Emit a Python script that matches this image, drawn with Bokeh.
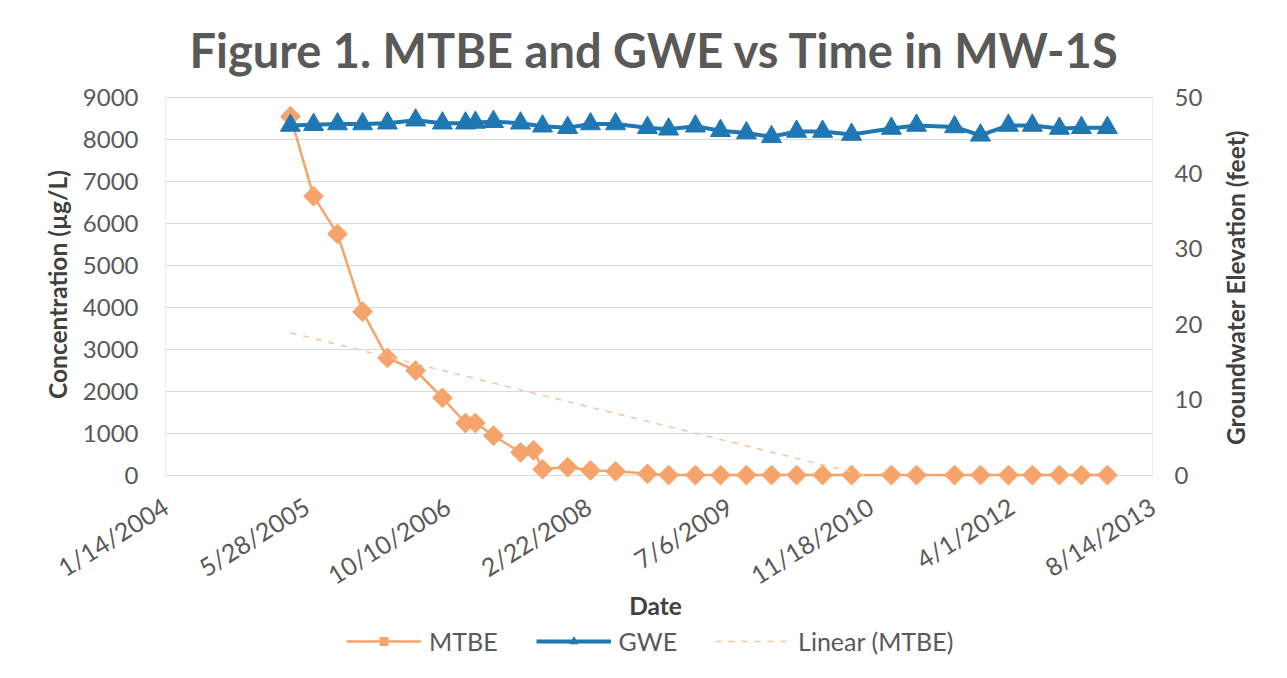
import numpy as np
import pandas as pd
from bokeh.plotting import figure
from bokeh.models import Range1d, LinearAxis, FixedTicker, Legend, LegendItem, Label
from bokeh.embed import file_html
from bokeh.resources import INLINE

# ---------------- data ----------------
title_text = "Figure 1. MTBE and GWE vs Time in MW-1S"
x_title = "Date"
y_title = "Concentration (µg/L)"
y2_title = "Groundwater Elevation (feet)"
x_tick_labels = ["1/14/2004", "5/28/2005", "10/10/2006", "2/22/2008",
                 "7/6/2009", "11/18/2010", "4/1/2012", "8/14/2013"]
conc_ticks = [0, 1000, 2000, 3000, 4000, 5000, 6000, 7000, 8000, 9000]
gwe_ticks = [0, 10, 20, 30, 40, 50]

mtbe_dates = ["2005-04-01", "2005-06-22", "2005-09-15", "2005-12-13", "2006-03-11",
              "2006-06-19", "2006-09-22", "2006-12-13", "2007-01-17", "2007-03-22",
              "2007-06-26", "2007-08-11", "2007-09-12", "2007-12-10", "2008-02-29",
              "2008-05-28", "2008-09-18", "2008-12-02", "2009-03-07", "2009-06-04",
              "2009-09-04", "2009-12-02", "2010-03-01", "2010-06-01", "2010-09-12",
              "2011-01-31", "2011-04-30", "2011-09-12", "2011-12-13", "2012-03-21",
              "2012-06-14", "2012-09-18", "2012-12-05", "2013-03-07"]
mtbe_values = [8550, 6650, 5750, 3900, 2800, 2500, 1850, 1250, 1250, 950,
               550, 600, 150, 200, 120, 100, 40, 10, 10, 10,
               10, 10, 10, 10, 10, 10, 10, 10, 10, 10,
               10, 10, 10, 10]

gwe_dates = ["2005-04-01", "2005-06-22", "2005-09-15", "2005-12-13", "2006-03-11",
             "2006-06-19", "2006-09-22", "2006-12-13", "2007-01-17", "2007-03-22",
             "2007-06-26", "2007-09-12", "2007-12-10", "2008-02-29",
             "2008-05-28", "2008-09-18", "2008-12-02", "2009-03-07", "2009-06-04",
             "2009-09-04", "2009-12-02", "2010-03-01", "2010-06-01", "2010-09-12",
             "2011-01-31", "2011-04-30", "2011-09-12", "2011-12-13", "2012-03-21",
             "2012-06-14", "2012-09-18", "2012-12-05", "2013-03-07"]
gwe_values = [46.3, 46.4, 46.5, 46.5, 46.6, 47.0, 46.6, 46.6, 46.7, 46.8,
              46.6, 46.2, 46.0, 46.5, 46.5, 46.0, 45.8, 46.2, 45.6,
              45.3, 44.8, 45.5, 45.5, 45.1, 45.9, 46.3, 46.1, 45.0, 46.3,
              46.3, 45.9, 46.0, 46.0]

# ---------------- styles / geometry ----------------
ORANGE = "#f6a46c"
TREND = "#f6c4a0"
BLUE = "#1f77b4"
TXT = "#595959"
LBL = "#404040"
GRID = "#d9d9d9"
FONT = "Lato"

CANVAS_W = 1286
TOP = 82                 # space for the title (frame starts here)
CANVAS_BOTTOM = 675
PLOT_L, PLOT_R = 165, 1152   # plot area, in page pixels
PLOT_T, PLOT_B = 97, 475
FRAME_H = CANVAS_BOTTOM - TOP


def to_ms(ts):
    return (pd.to_datetime(ts) - pd.Timestamp("1970-01-01")) / pd.Timedelta(milliseconds=1)


tick_ms = [float(v) for v in to_ms(pd.to_datetime(x_tick_labels, format="%m/%d/%Y"))]
t0, t1 = tick_ms[0], tick_ms[-1]
ms_per_px = (t1 - t0) / (PLOT_R - PLOT_L)
x_start = t0 - PLOT_L * ms_per_px
x_end = t0 + (CANVAS_W - PLOT_L) * ms_per_px

c0, c1 = conc_ticks[0], conc_ticks[-1]
c_per_px = (c1 - c0) / (PLOT_B - PLOT_T)
y_start = c0 - (CANVAS_BOTTOM - PLOT_B) * c_per_px
y_end = c1 + (PLOT_T - TOP) * c_per_px

g0, g1 = gwe_ticks[0], gwe_ticks[-1]
g_per_px = (g1 - g0) / (PLOT_B - PLOT_T)
y2_start = g0 - (CANVAS_BOTTOM - PLOT_B) * g_per_px
y2_end = g1 + (PLOT_T - TOP) * g_per_px

mtbe_x = pd.to_datetime(mtbe_dates)
gwe_x = pd.to_datetime(gwe_dates)

# linear trend (least squares, like a spreadsheet trendline), shown above 0
mtbe_ms = np.array(to_ms(mtbe_x), dtype=float)
a, b = np.polyfit(mtbe_ms, np.array(mtbe_values, dtype=float), 1)
t_end = min(mtbe_ms[-1], -b / a) if a < 0 else mtbe_ms[-1]
trend_x = [mtbe_ms[0], t_end]
trend_y = [a * mtbe_ms[0] + b, a * t_end + b]


def sx(px):   # page x -> screen units of the frame
    return px


def sy(py):   # page y -> screen units of the frame (measured from the bottom)
    return CANVAS_BOTTOM - py


p = figure(frame_width=CANVAS_W, frame_height=FRAME_H, x_axis_type="datetime",
           output_backend="svg", toolbar_location=None,
           x_range=Range1d(x_start, x_end), y_range=Range1d(y_start, y_end),
           min_border_left=0, min_border_right=0,
           min_border_top=TOP, min_border_bottom=0,
           background_fill_color="white", border_fill_color="white")
p.extra_y_ranges = {"gwe": Range1d(y2_start, y2_end)}
p.outline_line_color = None
p.xgrid.grid_line_color = None
p.ygrid.grid_line_color = None

# title
p.title.text = title_text
p.title.align = "left"
p.title.offset = 189
p.title.text_font = FONT
p.title.text_font_size = "47px"
p.title.text_font_style = "bold"
p.title.text_color = TXT
p.title.standoff = 9

# horizontal grid lines and plot-area sides, limited to the plot area
n = len(conc_ticks)
p.segment(x0=[t0] * n, y0=conc_ticks, x1=[t1] * n, y1=conc_ticks,
          line_color=GRID, line_width=1)
p.segment(x0=[t0, t1], y0=[c0, c0], x1=[t0, t1], y1=[c1, c1],
          line_color="#ececec", line_width=1)

# x axis (fixed at 0)
xa = p.xaxis[0]
xa.fixed_location = c0
xa.ticker = FixedTicker(ticks=tick_ms)
xa.major_label_overrides = {t: lab for t, lab in zip(tick_ms, x_tick_labels)}
xa.major_label_orientation = np.deg2rad(32)
xa.major_label_text_font = FONT
xa.major_label_text_font_size = "25px"
xa.major_label_text_color = TXT
xa.major_label_standoff = 22
xa.axis_line_color = None
xa.major_tick_line_color = None
xa.minor_tick_line_color = None

# left axis (fixed at the first date)
ya = p.yaxis[0]
ya.fixed_location = t0
ya.ticker = FixedTicker(ticks=conc_ticks)
ya.major_label_text_font = FONT
ya.major_label_text_font_size = "24px"
ya.major_label_text_color = TXT
ya.major_label_standoff = 21
ya.axis_line_color = None
ya.major_tick_line_color = None
ya.minor_tick_line_color = None

# right axis (fixed at the last date)
ra = LinearAxis(y_range_name="gwe", ticker=FixedTicker(ticks=gwe_ticks), fixed_location=t1)
ra.major_label_text_font = FONT
ra.major_label_text_font_size = "24px"
ra.major_label_text_color = TXT
ra.major_label_standoff = 16
ra.axis_line_color = None
ra.major_tick_line_color = None
ra.minor_tick_line_color = None
p.add_layout(ra, "right")

# axis titles
common = dict(x_units="screen", y_units="screen", text_align="center",
              text_baseline="middle", text_font=FONT, text_font_size="24.5px",
              text_font_style="bold", text_color=LBL)
p.add_layout(Label(x=sx(57), y=sy(284), text=y_title, angle=np.pi / 2, **common))
p.add_layout(Label(x=sx(1235), y=sy(287), text=y2_title, angle=np.pi / 2, **common))
p.add_layout(Label(x=sx(655), y=sy(605), text=x_title, **common))

# data glyphs
r_ml = p.line(mtbe_x, mtbe_values, line_color=ORANGE, line_width=2.5)
r_ms = p.scatter(mtbe_x, mtbe_values, marker="square", angle=np.pi / 4, size=14,
                 fill_color=ORANGE, line_color=ORANGE)
r_tr = p.line(trend_x, trend_y, line_color=TREND, line_width=1.5, line_dash="6 7")
r_gl = p.line(gwe_x, gwe_values, line_color=BLUE, line_width=4, y_range_name="gwe")
r_gs = p.scatter(gwe_x, gwe_values, marker="triangle", size=20,
                 fill_color=BLUE, line_color=BLUE, y_range_name="gwe")

legend = Legend(items=[LegendItem(label="MTBE", renderers=[r_ml, r_ms]),
                       LegendItem(label="GWE", renderers=[r_gl, r_gs]),
                       LegendItem(label="Linear (MTBE)", renderers=[r_tr])],
                orientation="horizontal", location=(sx(346), sy(656)),
                glyph_width=75, glyph_height=20, label_standoff=8, spacing=38,
                label_text_font=FONT, label_text_font_size="25px",
                label_text_color=TXT, border_line_color=None,
                background_fill_alpha=0, padding=2, margin=0)
p.add_layout(legend, "center")

open("out.html", "w").write(file_html(p, INLINE))
